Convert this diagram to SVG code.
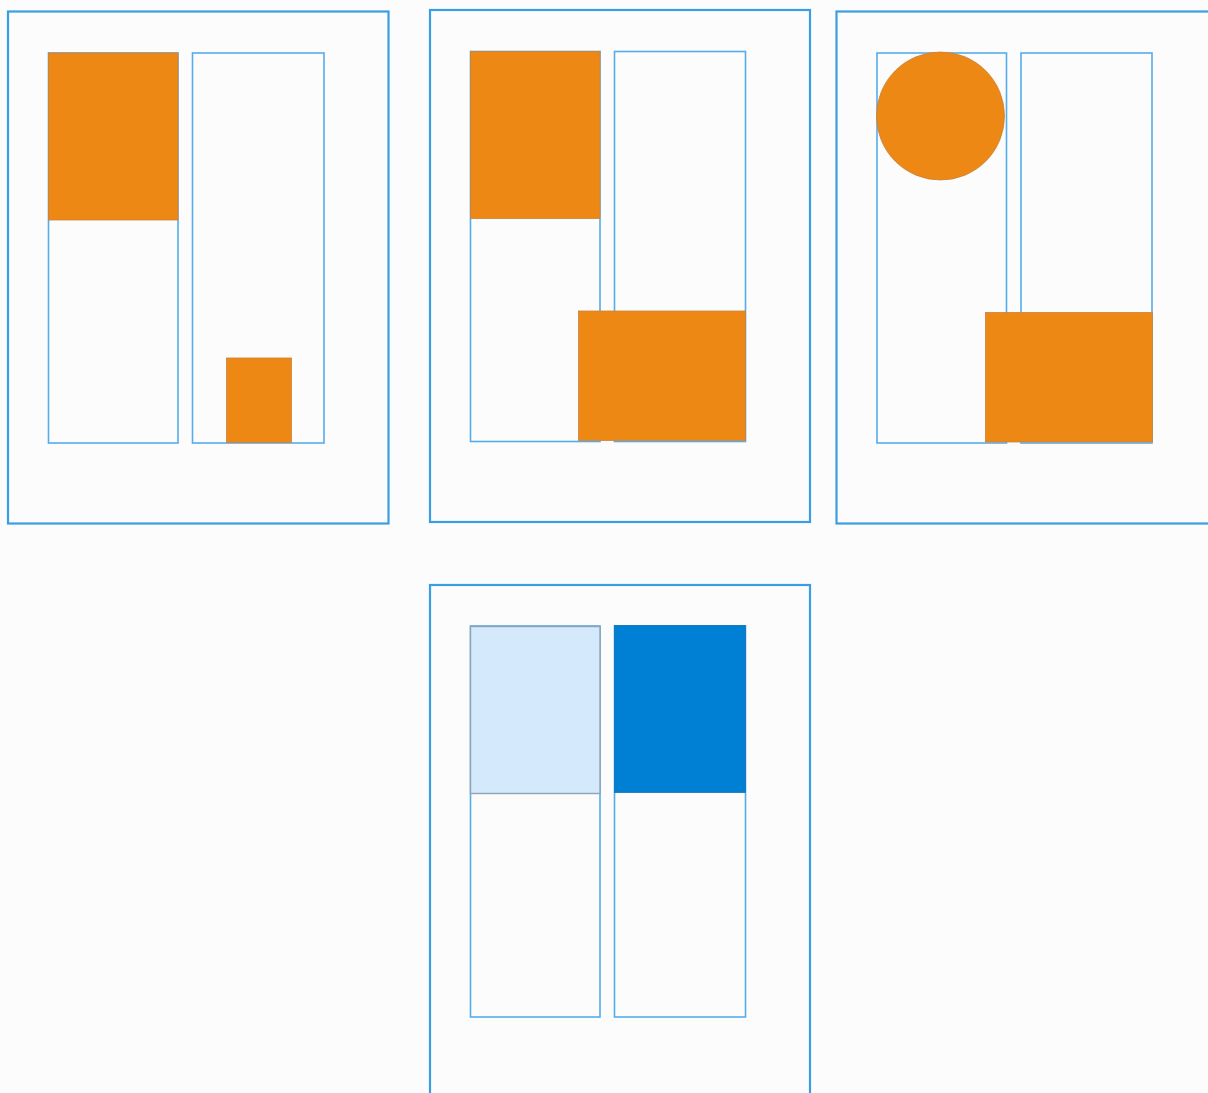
<svg xmlns="http://www.w3.org/2000/svg" width="1208" height="1093" viewBox="0 0 1208 1093">
<style>
.bg{fill:#fcfcfc}
.outer{fill:none;stroke:#3b9de3;stroke-width:2.2}
.inner{fill:none;stroke:#55acea;stroke-width:1.6}
.orange{fill:#ee8814;stroke:#c9823d;stroke-width:0.8}
.light{fill:#d4e9fc;stroke:#8ea3b6;stroke-width:1.4}
.dark{fill:#0080d5;stroke:#1673b3;stroke-width:0.8}
</style>
<rect class="bg" x="0" y="0" width="1208" height="1093"/>
<g id="panel1">
  <rect class="outer" x="8" y="11.5" width="380.5" height="512"/>
  <rect class="inner" x="48.5" y="53" width="129.5" height="390"/>
  <rect class="inner" x="192.5" y="53" width="131.5" height="390"/>
  <rect class="orange" x="48.5" y="53" width="129.5" height="167"/>
  <rect class="orange" x="226.5" y="358" width="65" height="84.5"/>
</g>
<g id="panel2">
  <rect class="outer" x="430" y="10" width="380" height="512"/>
  <rect class="inner" x="470.5" y="51.5" width="129.5" height="390"/>
  <rect class="inner" x="614.5" y="51.5" width="131" height="390"/>
  <rect class="orange" x="470.5" y="51.5" width="129.5" height="167"/>
  <rect class="orange" x="578.5" y="311" width="167" height="129.5"/>
</g>
<g id="panel3">
  <rect class="outer" x="836.5" y="11.5" width="400" height="512"/>
  <rect class="inner" x="877" y="53" width="129.5" height="390"/>
  <rect class="inner" x="1021" y="53" width="131" height="390"/>
  <circle class="orange" cx="940.5" cy="116" r="64"/>
  <rect class="orange" x="985.5" y="312.5" width="167" height="129.5"/>
</g>
<g id="panel4">
  <rect class="outer" x="430" y="585" width="380" height="530"/>
  <rect class="inner" x="470.5" y="626" width="129.5" height="391"/>
  <rect class="inner" x="614.5" y="626" width="131" height="391"/>
  <rect class="light" x="470.5" y="626.5" width="129.5" height="167"/>
  <rect class="dark" x="614.5" y="625.5" width="131" height="167"/>
</g>
<g id="connectors"/>
</svg>
